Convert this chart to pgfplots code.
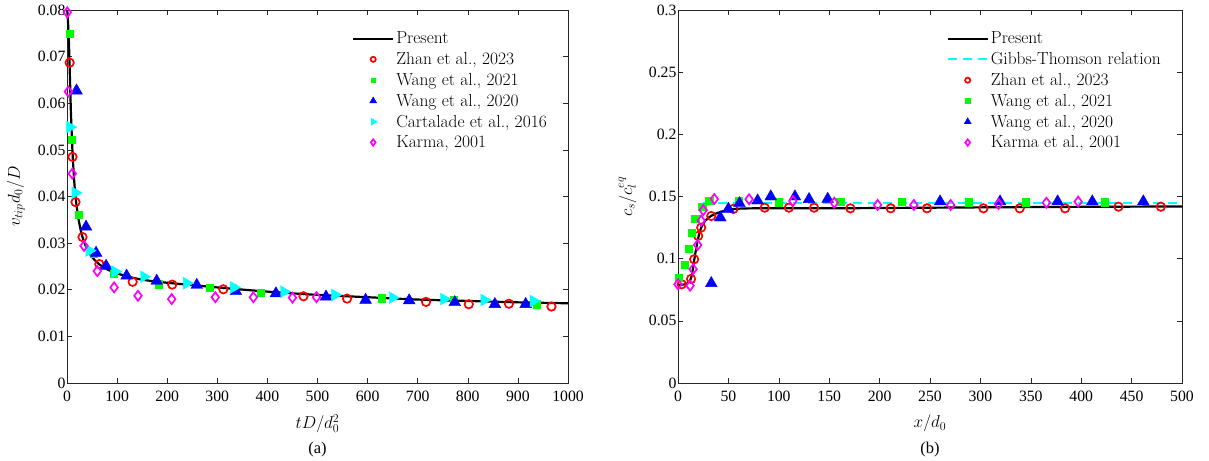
\documentclass[border=0pt]{standalone}
\usepackage{pgfplots}
\pgfplotsset{compat=1.18}
\usepackage{fontspec}
\newfontfamily\timesf{Liberation Serif}
\definecolor{mgray}{rgb}{0.15,0.15,0.15}
\definecolor{mgreen}{rgb}{0,1,0}
\definecolor{mcyan}{rgb}{0,1,1}
\definecolor{mmag}{rgb}{1,0,1}
\tikzset{sublabel/.style={font=\timesf\fontsize{16.5}{19}\selectfont, inner sep=0pt}}
\pgfplotsset{
  mybase/.style={
    scale only axis, width=501bp, height=373bp, anchor=south west,
    axis line style={mgray, line width=0.6bp},
    tick style={mgray, line width=0.6bp},
    major tick length=5bp,
    tick align=inside,
    xtick pos=both, ytick pos=both,
    tick label style={font=\timesf\fontsize{15.8}{19}\selectfont},
    xticklabel style={yshift=-5bp},
    yticklabel style={xshift=2bp},
    /pgf/number format/assume math mode=true,
    /pgf/number format/1000 sep={},
    label style={font=\fontsize{18.5}{22}\selectfont, inner sep=0pt},
    xlabel style={at={(axis description cs:0.5,-0.109)}, anchor=center},
    ylabel style={at={(axis description cs:-0.1,0.5)}, anchor=center},
    scaled ticks=false,
    legend style={draw=none, fill=none, font=\fontsize{17.5}{20}\selectfont, anchor=north east, row sep=3.2bp, inner sep=0pt},
    legend cell align=left,
  },
  linelg/.style={legend image code/.code={\draw[##1] (0bp,0bp) -- (40bp,0bp);}},
  marklg/.style={legend image code/.code={\draw[##1, mark size=#1] plot coordinates {(20bp,0bp)};}},
  sred/.style={only marks, mark=o, mark size=4.2bp, red, line width=1.7bp, marklg=2.6bp},
  sgreen/.style={only marks, mark=square*, mark size=3.6bp, mgreen, marklg=2.4bp},
  sblue/.style={only marks, mark=triangle*, mark size=6.8bp, blue, marklg=4bp},
  scyan/.style={only marks, mark=triangle*, mark size=6.8bp, mcyan, mark options={rotate=-90}, marklg=4bp},
  smag/.style={only marks, mark=diamond, mark size=5bp, mmag, line width=1.7bp, marklg=3.2bp},
}
\begin{document}
\begin{tikzpicture}
\path[use as bounding box] (0,0) rectangle (1209bp,461bp);
% ---------------- (a) ----------------
\begin{axis}[mybase, at={(67bp,78bp)},
  xmin=0, xmax=1000, ymin=0, ymax=0.08,
  xtick={0,100,...,1000},
  ytick={0,0.01,0.02,0.03,0.04,0.05,0.06,0.07,0.08},
  yticklabels={0,0.01,0.02,0.03,0.04,0.05,0.06,0.07,0.08},
  xlabel={$tD/d_0^2$}, ylabel={$v_{tip}d_0/D$},
  ylabel style={at={(axis description cs:-0.102,0.5)}},
  legend style={at={(0.962,0.947)}},
  clip=false,
]
\addplot[black, line width=2.2bp, smooth, linelg] coordinates {
(0.5,0.0800) (2,0.0775) (4,0.0725) (6,0.0650) (8,0.0575) (11,0.0495) (14,0.0440) (17,0.0400)
(22,0.0358) (28,0.0325) (35,0.0300) (45,0.0278) (55,0.0264) (65,0.0254) (80,0.0244)
(100,0.0235) (130,0.0226) (160,0.0220) (200,0.0215) (250,0.0210) (300,0.0205)
(400,0.0196) (500,0.0189) (600,0.0184) (700,0.0179) (800,0.0176) (900,0.0173) (1000,0.0171)};
\addlegendentry{Present}
\addplot[sred] coordinates {
(5.3,0.0687) (11,0.0485) (17,0.0388) (31,0.0313) (64.5,0.0255) (131,0.0217) (210,0.0211)
(312,0.0201) (472,0.0186) (559,0.0181) (716.6,0.0174) (802,0.0169) (882,0.0170) (967,0.0164)};
\addlegendentry{Zhan et al., 2023}
\addplot[sgreen] coordinates {
(4.7,0.0750) (10,0.0521) (23,0.0361) (52.5,0.0277) (92.5,0.0234) (183,0.0212) (285,0.0205)
(386.6,0.0194) (628,0.0182) (772,0.0178) (937.5,0.0169)};
\addlegendentry{Wang et al., 2021}
\addplot[sblue] coordinates {
(19,0.0627) (38,0.0335) (58,0.0279) (78,0.0251) (119,0.0230) (179,0.0219) (259,0.0210)
(337,0.0197) (417,0.0192) (517,0.0185) (596,0.0178) (683,0.0177) (774,0.0173) (854,0.0169) (915.5,0.0169)};
\addlegendentry{Wang et al., 2020}
\addplot[scyan] coordinates {
(6,0.0549) (16.5,0.0408) (44.5,0.0284) (96,0.0239) (153.5,0.0228) (239,0.0214) (333,0.0205)
(433,0.0196) (535,0.0189) (650,0.0183) (752.5,0.0180) (833,0.0178) (931,0.0176)};
\addlegendentry{Cartalade et al., 2016}
\addplot[smag] coordinates {
(0.6,0.0795) (2.7,0.0625) (10.6,0.0449) (34,0.0294) (60.5,0.0240) (94,0.0205) (141.7,0.0187)
(209,0.0180) (296,0.0184) (372,0.0184) (450,0.0183) (498,0.0184)};
\addlegendentry{Karma, 2001}
\node[sublabel] at (rel axis cs:0.5,-0.179) {(a)};
\end{axis}
% ---------------- (b) ----------------
\begin{axis}[mybase, at={(678bp,78bp)}, width=504bp,
  xmin=0, xmax=500, ymin=0, ymax=0.3,
  xtick={0,50,...,500},
  ytick={0,0.05,0.1,0.15,0.2,0.25,0.3},
  yticklabels={0,0.05,0.1,0.15,0.2,0.25,0.3},
  xlabel={$x/d_0$}, ylabel={$c_s/c_l^{eq}$},
  legend style={at={(0.962,0.947)}},
  clip=false,
]
\addplot[black, line width=2.2bp, smooth, linelg] coordinates {
(0,0.0790) (8,0.0795) (12,0.0825) (14,0.0880) (16,0.0985) (18,0.1080) (20,0.1165) (23,0.1250)
(27,0.1305) (33,0.1345) (40,0.1370) (50,0.1393) (60,0.1402) (80,0.1405) (150,0.1405)
(250,0.1410) (350,0.1415) (500,0.1420)};
\addlegendentry{Present}
\addplot[mcyan, dashed, dash pattern=on 9bp off 6bp, line width=2bp, linelg] coordinates {(25,0.1445) (500,0.1445)};
\addlegendentry{Gibbs-Thomson relation}
\addplot[sred] coordinates {
(3.7,0.0794) (13,0.0837) (16,0.0995) (20,0.1183) (23,0.1250) (33,0.1343) (55,0.1400)
(86,0.1410) (110,0.1410) (135,0.1410) (171,0.1405) (211,0.1405) (247,0.1405) (303,0.1405)
(339,0.1405) (384,0.1405) (437,0.1418) (479,0.1418)};
\addlegendentry{Zhan et al., 2023}
\addplot[sgreen] coordinates {
(0.3,0.0850) (6.6,0.0949) (11,0.1078) (13.6,0.1212) (17,0.1320) (24,0.1418) (31,0.1464)
(60,0.1467) (99.5,0.1454) (161,0.1456) (222,0.1459) (288,0.1454) (345,0.1454) (423.6,0.1454)};
\addlegendentry{Wang et al., 2021}
\addplot[sblue] coordinates {
(33,0.0802) (42,0.1330) (50,0.1400) (61,0.1445) (79,0.1467) (92,0.1499) (116,0.1499)
(130,0.1478) (148.5,0.1480) (260,0.1459) (319.5,0.1459) (376.6,0.1459) (411,0.1459) (461.6,0.1459)};
\addlegendentry{Wang et al., 2020}
\addplot[smag] coordinates {
(0,0.0794) (12,0.0783) (15,0.0915) (19.5,0.1110) (23,0.1306) (25,0.1390) (36,0.1480)
(70.5,0.1478) (114,0.1464) (155,0.1450) (198,0.1432) (234,0.1432) (270.5,0.1432)
(318,0.1440) (365.5,0.1450) (397,0.1459)};
\addlegendentry{Karma et al., 2001}
\node[sublabel] at (rel axis cs:0.5,-0.179) {(b)};
\end{axis}
\end{tikzpicture}
\end{document}
